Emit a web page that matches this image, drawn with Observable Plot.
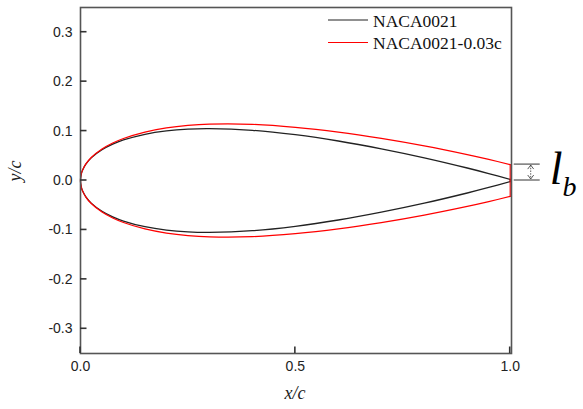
<!DOCTYPE html>
<html>
<head>
<meta charset="utf-8">
<script src="https://cdn.jsdelivr.net/npm/d3@7"></script>
<script src="https://cdn.jsdelivr.net/npm/@observablehq/plot@0.6"></script>
<style>
  html, body { margin: 0; padding: 0; background: #fff; }
  #chart { width: 583px; height: 409px; }
</style>
</head>
<body>
<div id="chart"></div>
<script>
// Chordwise stations x/c
const chordX = [0, 0.0005, 0.0025, 0.005, 0.0125, 0.025, 0.05, 0.075, 0.1, 0.15, 0.2, 0.25, 0.3, 0.4, 0.5, 0.6, 0.7, 0.8, 0.9, 0.95, 1.0];
// Upper-surface half thickness y/c of the baseline NACA0021 section
const nacaUpper = [0, 0.0069, 0.0153, 0.0214, 0.0331, 0.0458, 0.0622, 0.0735, 0.0820, 0.0935, 0.1004, 0.1040, 0.1050, 0.1016, 0.0926, 0.0799, 0.0641, 0.0459, 0.0253, 0.0141, 0.0022];
// Upper-surface half thickness y/c of the blunt trailing-edge section
const bluntUpper = [0, 0.0069, 0.0154, 0.0215, 0.0335, 0.0466, 0.0637, 0.0758, 0.0850, 0.0980, 0.1064, 0.1115, 0.1140, 0.1136, 0.1076, 0.0979, 0.0851, 0.0699, 0.0523, 0.0426, 0.0322];

const seriesNames = ["NACA0021", "NACA0021-0.03c"];
const seriesColors = ["#222222", "#ff0000"];

const xTicks = [0, 0.5, 1.0];
const yTicks = [-0.3, -0.2, -0.1, 0, 0.1, 0.2, 0.3];

// Closed contour: upper surface from trailing edge to leading edge, then lower surface back
function contour(upper) {
  const up = chordX.map((x, i) => ({x, y: upper[i]})).reverse();
  const low = chordX.slice(1).map((x, i) => ({x, y: -upper[i + 1]}));
  return up.concat(low);
}
function trailingEdge(upper) {
  const n = chordX.length - 1;
  return [{x: chordX[n], y: upper[n]}, {x: chordX[n], y: -upper[n]}];
}

const nacaContour = contour(nacaUpper);
const bluntContour = contour(bluntUpper);

const fmt = d => d.toFixed(1);

const plot = Plot.plot({
  width: 583,
  height: 409,
  marginLeft: 80,
  marginRight: 72,
  marginTop: 7,
  marginBottom: 56,
  x: {domain: [0, 1.003]},
  y: {domain: [-0.35, 0.35]},
  style: {fontFamily: "'Liberation Sans', Arial, sans-serif", fontSize: "14px", color: "#222", background: "#fff"},
  marks: [
    Plot.line(nacaContour, {x: "x", y: "y", stroke: seriesColors[0], strokeWidth: 1.3, curve: "catmull-rom"}),
    Plot.line(trailingEdge(nacaUpper), {x: "x", y: "y", stroke: seriesColors[0], strokeWidth: 1.3}),
    Plot.line(bluntContour, {x: "x", y: "y", stroke: seriesColors[1], strokeWidth: 1.2, curve: "catmull-rom"}),
    Plot.line(trailingEdge(bluntUpper), {x: "x", y: "y", stroke: seriesColors[1], strokeWidth: 1.2}),
    Plot.frame({stroke: "#555", strokeWidth: 1.6}),
    Plot.axisX({ticks: xTicks, tickFormat: fmt, tickSize: 0, tickPadding: 8, label: null, fontSize: 14}),
    Plot.axisY({ticks: yTicks, tickFormat: fmt, tickSize: 0, tickPadding: 8, label: null, fontSize: 14})
  ]
});

document.getElementById("chart").appendChild(plot);

const svg = d3.select(plot);
const sx = plot.scale("x");
const sy = plot.scale("y");
const serif = "'Liberation Serif', 'Times New Roman', serif";

// Inward-pointing tick marks on the bottom and left axes
const x0 = sx.apply(sx.domain[0]);
const yBottom = sy.apply(sy.domain[0]);
const ticks = svg.append("g").attr("stroke", "#333").attr("stroke-width", 1.6);
yTicks.forEach(t => {
  const y = sy.apply(t);
  ticks.append("line").attr("x1", x0).attr("x2", x0 + 6.5).attr("y1", y).attr("y2", y);
});
xTicks.forEach(t => {
  const x = sx.apply(t);
  ticks.append("line").attr("x1", x).attr("x2", x).attr("y1", yBottom).attr("y2", yBottom - 6.5);
});

// Axis titles
svg.append("text")
  .attr("x", 295).attr("y", 399)
  .attr("text-anchor", "middle")
  .attr("font-family", serif).attr("font-style", "italic").attr("font-size", 18)
  .attr("fill", "#222")
  .text("x/c");
svg.append("text")
  .attr("transform", "translate(21,171) rotate(-90)")
  .attr("text-anchor", "middle")
  .attr("font-family", serif).attr("font-style", "italic").attr("font-size", 18)
  .attr("fill", "#222")
  .text("y/c");

// Legend
const legend = svg.append("g").attr("text-anchor", "start");
seriesNames.forEach((name, i) => {
  const y = 20 + i * 22.5;
  legend.append("line")
    .attr("x1", 328).attr("x2", 368).attr("y1", y).attr("y2", y)
    .attr("stroke", seriesColors[i]).attr("stroke-width", 1.2);
  legend.append("text")
    .attr("x", 373).attr("y", y + 6.5)
    .attr("text-anchor", "start")
    .attr("font-family", serif).attr("font-size", 17.5)
    .attr("fill", "#111")
    .text(name);
});

// Trailing-edge bluntness annotation l_b
const n = chordX.length - 1;
const teX = sx.apply(chordX[n]);
const yTop = sy.apply(bluntUpper[n]);
const yMid = sy.apply(0);
const ann = svg.append("g").attr("stroke", "#333").attr("fill", "none");
[yTop, yMid].forEach(y => {
  ann.append("line").attr("x1", teX + 4).attr("x2", teX + 30).attr("y1", y).attr("y2", y).attr("stroke-width", 1);
});
const ax = teX + 21;
ann.append("line").attr("x1", ax).attr("x2", ax).attr("y1", yTop + 1).attr("y2", yMid - 1)
  .attr("stroke-width", 0.8).attr("stroke-dasharray", "1.5,1.2");
ann.append("path").attr("d", `M${ax - 3},${yTop + 5}L${ax},${yTop + 1}L${ax + 3},${yTop + 5}`).attr("stroke-width", 0.8);
ann.append("path").attr("d", `M${ax - 3},${yMid - 5}L${ax},${yMid - 1}L${ax + 3},${yMid - 5}`).attr("stroke-width", 0.8);

const lb = svg.append("text")
  .attr("x", teX + 40).attr("y", yMid + 3.5)
  .attr("text-anchor", "start")
  .attr("font-family", serif).attr("font-style", "italic").attr("fill", "#000");
lb.append("tspan").attr("font-size", 46).text("l");
lb.append("tspan").attr("font-size", 28).attr("dy", 12).text("b");
</script>
</body>
</html>
